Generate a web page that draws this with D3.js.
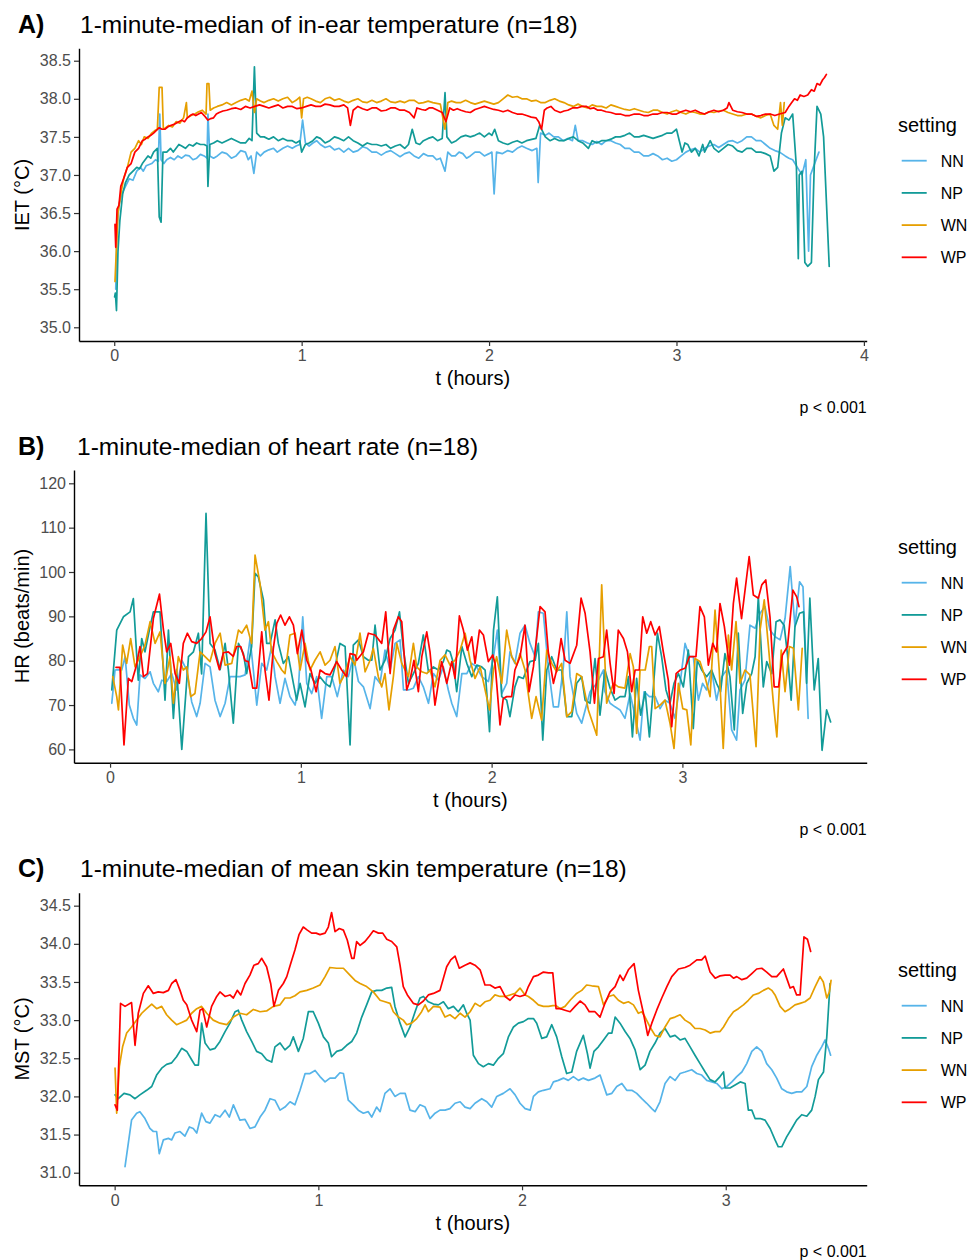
<!DOCTYPE html>
<html>
<head>
<meta charset="utf-8">
<script src="https://cdn.jsdelivr.net/npm/d3@7"></script>
<style>
  html, body { margin: 0; padding: 0; background: #fff; }
  svg { display: block; }
  text { font-family: "Liberation Sans", Arial, Helvetica, sans-serif; }
</style>
</head>
<body>
<svg id="chart" width="979" height="1260"></svg>
<script>
// ---------------- DATA ----------------
const settings = ["NN", "NP", "WN", "WP"];
const settingColors = ["#56B4E9", "#129B98", "#E69F00", "#FF0000"];

const panelLetters = ["A)", "B)", "C)"];
const panelTitles = [
  "1-minute-median of in-ear temperature (n=18)",
  "1-minute-median of heart rate (n=18)",
  "1-minute-median of mean skin temperature (n=18)"
];
const yTitles = ["IET (°C)", "HR (beats/min)", "MST (°C)"];
const xTitle = "t (hours)";
const pLabels = ["p < 0.001", "p < 0.001", "p < 0.001"];
const legendTitle = "setting";

const xTicksA = [0, 1, 2, 3, 4];
const yTicksA = [35.0, 35.5, 36.0, 36.5, 37.0, 37.5, 38.0, 38.5];
const xTicksB = [0, 1, 2, 3];
const yTicksB = [60, 70, 80, 90, 100, 110, 120];
const xTicksC = [0, 1, 2, 3];
const yTicksC = [31.0, 31.5, 32.0, 32.5, 33.0, 33.5, 34.0, 34.5];

// Panel A: in-ear temperature [t (h), °C]
const ietNN = [[0.008,35.5],[0.015,36.3],[0.025,36.6],[0.04,36.75],[0.06,36.85],[0.08,36.95],[0.1,36.93],[0.12,37.05],[0.14,37.1],[0.155,37.05],[0.17,37.12],[0.2,37.15],[0.22,37.2],[0.235,37.18],[0.243,37.8],[0.25,37.2],[0.265,37.15],[0.28,37.2],[0.3,37.23],[0.32,37.2],[0.34,37.25],[0.36,37.22],[0.38,37.26],[0.4,37.25],[0.42,37.2],[0.44,37.22],[0.46,37.27],[0.48,37.25],[0.495,37.22],[0.5,37.8],[0.51,37.25],[0.53,37.22],[0.55,37.25],[0.575,37.3],[0.6,37.28],[0.625,37.22],[0.65,37.25],[0.675,37.32],[0.7,37.3],[0.715,37.2],[0.73,37.25],[0.745,37.02],[0.76,37.3],[0.78,37.25],[0.8,37.3],[0.825,37.33],[0.85,37.35],[0.87,37.3],[0.9,37.35],[0.925,37.38],[0.95,37.35],[0.97,37.38],[0.99,37.4],[1.005,37.72],[1.02,37.42],[1.04,37.38],[1.06,37.42],[1.08,37.45],[1.1,37.4],[1.125,37.36],[1.15,37.38],[1.175,37.33],[1.2,37.35],[1.225,37.3],[1.25,37.35],[1.275,37.3],[1.3,37.32],[1.325,37.37],[1.35,37.35],[1.375,37.3],[1.4,37.3],[1.425,37.26],[1.45,37.3],[1.475,37.32],[1.5,37.28],[1.525,37.24],[1.55,37.28],[1.575,37.3],[1.6,37.25],[1.625,37.22],[1.65,37.28],[1.675,37.25],[1.7,37.25],[1.72,37.2],[1.74,37.22],[1.765,37.05],[1.78,37.3],[1.8,37.25],[1.82,37.25],[1.84,37.3],[1.86,37.28],[1.88,37.22],[1.9,37.25],[1.925,37.3],[1.95,37.3],[1.975,37.25],[2.0,37.28],[2.015,37.3],[2.027,36.75],[2.04,37.3],[2.07,37.28],[2.1,37.32],[2.125,37.3],[2.15,37.35],[2.175,37.38],[2.2,37.35],[2.23,37.32],[2.255,37.35],[2.262,36.9],[2.275,37.55],[2.3,37.52],[2.32,37.55],[2.345,37.5],[2.37,37.5],[2.395,37.45],[2.42,37.48],[2.445,37.45],[2.46,37.65],[2.475,37.45],[2.5,37.45],[2.525,37.42],[2.55,37.4],[2.575,37.44],[2.6,37.4],[2.625,37.45],[2.65,37.45],[2.675,37.42],[2.7,37.4],[2.725,37.35],[2.75,37.35],[2.775,37.3],[2.8,37.3],[2.825,37.25],[2.85,37.25],[2.875,37.28],[2.9,37.25],[2.925,37.2],[2.95,37.22],[2.975,37.18],[3.0,37.2],[3.025,37.25],[3.05,37.3],[3.075,37.33],[3.1,37.35],[3.125,37.3],[3.15,37.35],[3.175,37.38],[3.2,37.4],[3.225,37.36],[3.25,37.4],[3.275,37.44],[3.3,37.45],[3.325,37.42],[3.35,37.45],[3.375,37.5],[3.4,37.5],[3.425,37.45],[3.45,37.45],[3.475,37.4],[3.5,37.35],[3.525,37.32],[3.55,37.3],[3.58,37.25],[3.6,37.22],[3.62,37.2],[3.645,37.1],[3.67,37.0],[3.69,37.2],[3.705,36.0],[3.715,37.0],[3.73,37.1],[3.745,37.2],[3.76,37.3]];
const ietNP = [[0.002,35.4],[0.006,35.45],[0.012,35.22],[0.02,36.0],[0.03,36.4],[0.045,36.75],[0.06,36.9],[0.08,37.0],[0.1,37.05],[0.12,37.1],[0.135,37.08],[0.15,37.15],[0.165,37.2],[0.18,37.25],[0.195,37.22],[0.21,37.3],[0.23,37.35],[0.24,36.45],[0.25,36.38],[0.26,37.3],[0.28,37.3],[0.3,37.35],[0.315,37.3],[0.33,37.35],[0.345,37.4],[0.36,37.38],[0.38,37.35],[0.4,37.4],[0.42,37.38],[0.44,37.42],[0.46,37.4],[0.48,37.4],[0.495,37.38],[0.5,36.85],[0.51,37.4],[0.53,37.42],[0.55,37.45],[0.575,37.42],[0.6,37.45],[0.625,37.48],[0.65,37.45],[0.675,37.42],[0.7,37.42],[0.72,37.48],[0.735,37.45],[0.748,38.42],[0.76,37.55],[0.78,37.5],[0.8,37.5],[0.825,37.47],[0.85,37.5],[0.875,37.45],[0.9,37.48],[0.925,37.45],[0.95,37.45],[0.97,37.42],[0.99,37.45],[1.0,37.3],[1.02,37.4],[1.04,37.42],[1.06,37.45],[1.08,37.5],[1.1,37.48],[1.125,37.42],[1.15,37.45],[1.175,37.5],[1.2,37.48],[1.225,37.45],[1.25,37.5],[1.275,37.45],[1.3,37.42],[1.325,37.38],[1.35,37.42],[1.375,37.4],[1.4,37.4],[1.425,37.38],[1.45,37.4],[1.475,37.35],[1.5,37.38],[1.525,37.4],[1.55,37.35],[1.57,37.4],[1.59,37.6],[1.61,37.42],[1.63,37.4],[1.65,37.45],[1.675,37.48],[1.7,37.5],[1.725,37.45],[1.75,37.48],[1.765,38.08],[1.775,37.5],[1.8,37.42],[1.825,37.45],[1.85,37.5],[1.875,37.52],[1.9,37.5],[1.925,37.52],[1.95,37.55],[1.975,37.5],[2.0,37.55],[2.015,37.52],[2.03,37.6],[2.05,37.45],[2.075,37.42],[2.1,37.4],[2.125,37.43],[2.15,37.45],[2.175,37.42],[2.2,37.45],[2.25,37.48],[2.27,37.65],[2.3,37.5],[2.325,37.45],[2.35,37.48],[2.375,37.45],[2.4,37.45],[2.425,37.48],[2.45,37.5],[2.475,37.45],[2.5,37.42],[2.53,37.35],[2.55,37.45],[2.575,37.42],[2.6,37.45],[2.625,37.45],[2.65,37.47],[2.675,37.5],[2.7,37.5],[2.725,37.52],[2.75,37.55],[2.775,37.5],[2.8,37.5],[2.825,37.52],[2.85,37.5],[2.875,37.48],[2.9,37.5],[2.925,37.52],[2.95,37.55],[2.975,37.55],[3.0,37.6],[3.015,37.45],[3.03,37.3],[3.045,37.42],[3.06,37.4],[3.08,37.3],[3.1,37.35],[3.12,37.25],[3.14,37.4],[3.15,37.3],[3.18,37.45],[3.2,37.35],[3.225,37.3],[3.25,37.35],[3.275,37.4],[3.3,37.38],[3.325,37.32],[3.35,37.3],[3.375,37.35],[3.4,37.35],[3.425,37.3],[3.45,37.3],[3.475,37.28],[3.5,37.25],[3.52,37.05],[3.54,37.1],[3.56,37.55],[3.58,37.75],[3.6,37.72],[3.62,37.8],[3.64,37.1],[3.65,35.9],[3.655,37.0],[3.67,37.05],[3.685,35.85],[3.7,35.8],[3.72,35.85],[3.735,37.1],[3.75,37.9],[3.77,37.8],[3.785,37.5],[3.815,35.8]];
const ietWN = [[0.004,35.6],[0.01,35.95],[0.02,36.5],[0.035,36.75],[0.05,36.95],[0.07,37.1],[0.09,37.3],[0.11,37.35],[0.13,37.45],[0.145,37.4],[0.16,37.5],[0.18,37.48],[0.2,37.55],[0.215,37.58],[0.23,37.6],[0.24,38.15],[0.255,38.15],[0.262,37.6],[0.275,37.62],[0.29,37.65],[0.31,37.63],[0.33,37.7],[0.35,37.68],[0.37,37.75],[0.385,37.95],[0.39,37.75],[0.41,37.78],[0.43,37.8],[0.45,37.83],[0.47,37.85],[0.49,37.8],[0.495,38.2],[0.505,38.2],[0.512,37.85],[0.53,37.88],[0.55,37.9],[0.575,37.92],[0.6,37.95],[0.625,37.92],[0.65,37.95],[0.675,37.98],[0.7,38.0],[0.72,37.97],[0.735,38.1],[0.748,37.82],[0.76,38.0],[0.78,37.97],[0.8,37.95],[0.825,37.98],[0.85,38.0],[0.875,37.97],[0.9,38.0],[0.925,38.02],[0.95,37.95],[0.97,37.98],[0.99,38.02],[1.0,37.75],[1.01,38.0],[1.03,38.02],[1.05,38.0],[1.075,37.97],[1.1,37.95],[1.125,38.0],[1.15,38.02],[1.175,37.98],[1.2,38.0],[1.225,37.97],[1.25,37.95],[1.275,37.98],[1.3,38.0],[1.325,37.96],[1.35,37.95],[1.375,37.98],[1.4,37.95],[1.425,37.97],[1.45,38.0],[1.475,37.96],[1.5,37.95],[1.525,37.97],[1.55,37.95],[1.575,37.98],[1.6,37.98],[1.625,37.94],[1.65,37.95],[1.675,37.97],[1.7,37.95],[1.74,37.93],[1.765,37.6],[1.78,37.95],[1.8,37.97],[1.825,37.95],[1.85,37.95],[1.875,37.98],[1.9,37.95],[1.925,37.93],[1.95,37.95],[1.975,37.97],[2.0,37.95],[2.025,37.93],[2.05,37.95],[2.075,38.0],[2.1,38.05],[2.125,38.02],[2.15,38.03],[2.175,38.0],[2.2,38.0],[2.225,37.97],[2.25,37.98],[2.275,37.95],[2.3,37.95],[2.325,37.98],[2.35,38.0],[2.375,37.97],[2.4,37.95],[2.425,37.92],[2.45,37.9],[2.475,37.93],[2.5,37.9],[2.525,37.88],[2.55,37.92],[2.575,37.9],[2.6,37.9],[2.625,37.88],[2.65,37.92],[2.675,37.9],[2.7,37.88],[2.725,37.86],[2.75,37.85],[2.775,37.87],[2.8,37.85],[2.825,37.83],[2.85,37.82],[2.875,37.85],[2.9,37.85],[2.925,37.82],[2.95,37.8],[2.975,37.83],[3.0,37.85],[3.025,37.82],[3.05,37.8],[3.075,37.83],[3.1,37.82],[3.125,37.8],[3.15,37.8],[3.175,37.83],[3.2,37.82],[3.225,37.84],[3.25,37.85],[3.275,37.82],[3.3,37.8],[3.325,37.78],[3.35,37.78],[3.375,37.8],[3.4,37.8],[3.425,37.77],[3.45,37.75],[3.475,37.78],[3.5,37.8],[3.52,37.65],[3.54,37.6],[3.555,37.95],[3.565,37.65],[3.575,37.95]];
const ietWP = [[0.004,36.35],[0.008,36.05],[0.015,36.55],[0.025,36.6],[0.035,36.85],[0.05,36.95],[0.07,37.1],[0.09,37.15],[0.11,37.3],[0.13,37.35],[0.15,37.45],[0.165,37.47],[0.18,37.5],[0.195,37.52],[0.21,37.55],[0.24,37.62],[0.255,37.6],[0.27,37.6],[0.285,37.63],[0.3,37.65],[0.315,37.66],[0.33,37.68],[0.345,37.7],[0.36,37.72],[0.375,37.7],[0.39,37.75],[0.405,37.78],[0.42,37.8],[0.435,37.78],[0.45,37.8],[0.465,37.82],[0.48,37.78],[0.5,37.72],[0.515,37.74],[0.53,37.75],[0.545,37.8],[0.56,37.82],[0.58,37.84],[0.6,37.85],[0.625,37.87],[0.65,37.88],[0.675,37.86],[0.7,37.9],[0.725,37.88],[0.75,37.9],[0.775,37.92],[0.8,37.9],[0.825,37.88],[0.85,37.9],[0.875,37.92],[0.9,37.88],[0.925,37.9],[0.95,37.9],[0.975,37.87],[1.0,37.88],[1.025,37.9],[1.05,37.92],[1.075,37.9],[1.1,37.9],[1.125,37.93],[1.15,37.92],[1.175,37.9],[1.2,37.9],[1.225,37.92],[1.245,37.88],[1.26,37.65],[1.275,37.85],[1.3,37.9],[1.325,37.87],[1.35,37.85],[1.375,37.88],[1.4,37.88],[1.425,37.84],[1.45,37.85],[1.475,37.88],[1.5,37.88],[1.525,37.85],[1.55,37.85],[1.575,37.82],[1.6,37.75],[1.615,37.88],[1.64,37.86],[1.66,37.85],[1.68,37.88],[1.7,37.88],[1.725,37.85],[1.75,37.82],[1.77,37.7],[1.79,37.88],[1.81,37.85],[1.83,37.87],[1.85,37.85],[1.875,37.83],[1.9,37.82],[1.925,37.86],[1.95,37.88],[1.975,37.9],[2.0,37.88],[2.025,37.86],[2.05,37.85],[2.075,37.83],[2.1,37.85],[2.125,37.82],[2.15,37.8],[2.175,37.8],[2.2,37.78],[2.225,37.76],[2.25,37.75],[2.265,37.7],[2.28,37.6],[2.295,37.85],[2.31,37.88],[2.33,37.9],[2.35,37.85],[2.38,37.82],[2.4,37.84],[2.42,37.85],[2.445,37.88],[2.47,37.88],[2.495,37.9],[2.52,37.9],[2.54,37.87],[2.56,37.88],[2.58,37.85],[2.6,37.85],[2.625,37.83],[2.65,37.82],[2.675,37.8],[2.7,37.8],[2.725,37.78],[2.75,37.78],[2.775,37.8],[2.8,37.8],[2.825,37.78],[2.85,37.78],[2.875,37.8],[2.9,37.8],[2.925,37.82],[2.95,37.82],[2.975,37.8],[3.0,37.8],[3.025,37.83],[3.05,37.85],[3.075,37.83],[3.1,37.85],[3.125,37.82],[3.15,37.8],[3.175,37.83],[3.2,37.85],[3.225,37.83],[3.25,37.85],[3.27,37.88],[3.28,37.95],[3.3,37.85],[3.325,37.83],[3.35,37.82],[3.375,37.8],[3.4,37.8],[3.425,37.77],[3.45,37.78],[3.475,37.8],[3.5,37.8],[3.525,37.78],[3.55,37.8],[3.58,37.82],[3.6,37.9],[3.615,37.95],[3.63,38.0],[3.645,37.98],[3.66,38.05],[3.68,38.03],[3.7,38.05],[3.72,38.12],[3.735,38.1],[3.75,38.2],[3.765,38.18],[3.78,38.25],[3.79,38.28],[3.8,38.32]];

// Panel B: heart rate [t (h), beats/min]
const hrNN = [[0.009,70.4],[0.026,77.9],[0.044,78],[0.061,77.9],[0.079,80.9],[0.101,70],[0.122,67],[0.14,65.5],[0.157,76.8],[0.183,76],[0.21,77.5],[0.227,74.9],[0.253,73],[0.271,75.6],[0.297,75.3],[0.323,77.1],[0.349,73.4],[0.376,80.1],[0.402,77.9],[0.428,70.7],[0.454,67.4],[0.472,70.4],[0.498,79.4],[0.524,78.6],[0.55,71.1],[0.577,67.4],[0.603,70.4],[0.629,76.4],[0.655,76.4],[0.681,76.4],[0.708,76.8],[0.734,85],[0.751,77.9],[0.769,70],[0.795,79.4],[0.821,77.9],[0.847,83.2],[0.865,76.4],[0.891,70.4],[0.917,76],[0.943,71.9],[0.97,70],[0.987,73.8],[1.01,89.9],[1.031,74.9],[1.057,72.6],[1.083,76.4],[1.109,67],[1.136,76.4],[1.162,76.4],[1.191,71.9],[1.223,77.9],[1.249,76.4],[1.275,80.9],[1.302,75.3],[1.328,74.1],[1.363,69.2],[1.389,76.4],[1.415,74.9],[1.441,82.4],[1.468,77.9],[1.494,83.9],[1.52,84.7],[1.538,73.4],[1.564,73.4],[1.59,73.8],[1.616,76.4],[1.642,74.1],[1.669,70.4],[1.695,77.1],[1.721,75.6],[1.747,78.6],[1.773,73.4],[1.791,70.4],[1.817,67.4],[1.844,77.1],[1.87,77.1],[1.896,79.4],[1.922,78.6],[1.948,76.4],[1.983,75.3],[2.01,80.9],[2.03,86.9],[2.053,72.6],[2.079,74.9],[2.096,82],[2.122,79.4],[2.149,86.2],[2.175,88],[2.201,83.9],[2.228,80.9],[2.245,91],[2.271,90.7],[2.297,78.6],[2.324,69.6],[2.35,69.6],[2.376,78.6],[2.394,91],[2.411,76.4],[2.446,68.1],[2.472,65.9],[2.516,73],[2.551,74.9],[2.586,77.9],[2.594,73],[2.621,70.4],[2.647,69.6],[2.673,68.9],[2.699,67],[2.726,72.6],[2.752,67.4],[2.778,62.1],[2.799,73],[2.827,71.9],[2.857,71.9],[2.883,69.2],[2.909,71.1],[2.935,70.4],[2.961,67],[2.988,74.9],[3.014,83.9],[3.037,80.9],[3.057,80.9],[3.084,71.1],[3.106,74.9],[3.127,73.4],[3.153,77.9],[3.179,71.1],[3.206,76.4],[3.232,77.9],[3.258,64.4],[3.284,62.1],[3.302,73.4],[3.328,75.6],[3.354,88],[3.381,87.3],[3.407,90.7],[3.433,92.2],[3.459,86.9],[3.486,85.4],[3.512,84.7],[3.538,89.5],[3.565,101.2],[3.59,87.7],[3.614,97.8],[3.632,96.7],[3.659,67]];
const hrNP = [[0.009,73.4],[0.035,86.9],[0.07,89.9],[0.105,91],[0.122,94],[0.14,80.9],[0.148,75.6],[0.166,85],[0.183,82],[0.21,87.7],[0.227,91],[0.262,91],[0.288,71.1],[0.306,86.9],[0.332,67],[0.349,78],[0.376,60],[0.411,80.9],[0.437,82],[0.463,86.2],[0.48,77],[0.503,113.2],[0.524,83.9],[0.55,82.4],[0.577,78],[0.603,83.9],[0.62,78],[0.646,65.9],[0.673,83.9],[0.699,81.6],[0.716,77.1],[0.742,83.2],[0.76,99.7],[0.777,98.9],[0.804,93.7],[0.821,83.9],[0.839,83.9],[0.865,89.2],[0.882,83.9],[0.908,79.4],[0.935,80.9],[0.961,74.9],[0.978,71.1],[0.996,74.9],[1.022,69.6],[1.048,77.1],[1.074,74.9],[1.1,76.4],[1.127,74.9],[1.153,74.1],[1.179,78.6],[1.205,83.9],[1.232,83.2],[1.258,61],[1.275,83.5],[1.302,84.7],[1.328,80.9],[1.354,80.1],[1.372,80.1],[1.389,88],[1.415,77.9],[1.441,80.1],[1.468,85],[1.494,86.9],[1.517,91],[1.538,82.4],[1.564,74.9],[1.59,77.1],[1.616,79.4],[1.642,85.8],[1.669,77.5],[1.695,78.6],[1.721,77.9],[1.747,79.8],[1.765,82.4],[1.782,82],[1.8,79.4],[1.817,73],[1.844,83.2],[1.87,79.4],[1.896,76.4],[1.922,79],[1.948,78.6],[1.966,77.9],[1.989,64],[2.01,86.9],[2.03,94.4],[2.053,71.9],[2.079,71.1],[2.096,67.4],[2.122,74.1],[2.14,76.4],[2.166,76],[2.201,79.8],[2.228,80.1],[2.245,83.9],[2.268,62.1],[2.289,77.9],[2.315,80.9],[2.341,77.9],[2.367,77.9],[2.394,67.4],[2.42,67.4],[2.446,74.9],[2.472,76.4],[2.49,71.1],[2.516,70.4],[2.542,80.5],[2.568,67.7],[2.594,77.9],[2.621,73.8],[2.647,71.1],[2.673,71.9],[2.699,71.9],[2.717,76.4],[2.738,62.8],[2.76,76],[2.781,67.7],[2.805,73],[2.827,62.8],[2.848,74.1],[2.869,86.2],[2.891,80.9],[2.914,73.4],[2.935,70.4],[2.956,74.9],[2.979,77.1],[3.005,74.1],[3.031,82.4],[3.057,64.7],[3.078,80.1],[3.101,77.9],[3.127,76.4],[3.153,77.9],[3.179,74.9],[3.2,73],[3.223,81.6],[3.249,76.4],[3.272,64.4],[3.293,86.2],[3.316,68.1],[3.337,74.9],[3.363,77.1],[3.381,80.9],[3.398,94.4],[3.424,74.1],[3.442,79.8],[3.468,77.1],[3.491,88.8],[3.512,89.2],[3.533,88],[3.551,81.3],[3.57,71.1],[3.59,87.7],[3.614,90.7],[3.635,91],[3.651,74.9],[3.668,94.1],[3.691,73.4],[3.712,80.5],[3.732,59.8],[3.756,68.9],[3.777,66.2]];
const hrWN = [[0.014,76.4],[0.035,71.9],[0.044,68.9],[0.066,83.5],[0.087,79.4],[0.108,85],[0.131,78.6],[0.157,80.9],[0.183,83.5],[0.21,88.8],[0.236,83.9],[0.262,86.5],[0.288,74.9],[0.314,80.9],[0.332,70.4],[0.358,80.9],[0.384,77.9],[0.402,78.6],[0.423,71.9],[0.445,72.6],[0.472,82],[0.498,80.9],[0.524,79.8],[0.55,83.9],[0.577,86.2],[0.603,79],[0.638,79.4],[0.673,86.9],[0.69,86.2],[0.716,88],[0.742,83.9],[0.76,103.8],[0.786,97.4],[0.812,86.9],[0.83,88.8],[0.847,82],[0.874,79.8],[0.9,77.9],[0.917,77.1],[0.943,85.8],[0.97,86.2],[0.996,77.9],[1.022,83.9],[1.048,77.9],[1.074,80.1],[1.101,82],[1.127,79],[1.153,80.1],[1.179,83.2],[1.205,74.9],[1.232,77.1],[1.258,80.9],[1.284,79],[1.31,86.2],[1.337,77.5],[1.363,80.1],[1.38,82.8],[1.406,76.4],[1.424,74.1],[1.441,77.1],[1.462,68.9],[1.485,76.4],[1.503,83.9],[1.529,79.4],[1.564,76.4],[1.59,83.9],[1.607,78.6],[1.634,77.5],[1.66,77.1],[1.677,77.9],[1.703,74.1],[1.73,80.1],[1.756,81.3],[1.782,79],[1.808,80.1],[1.835,82.4],[1.861,86.2],[1.887,80.1],[1.913,76],[1.94,78.6],[1.966,73.4],[1.989,68.9],[2.01,77.9],[2.026,80.9],[2.053,74.9],[2.079,86.9],[2.105,80.9],[2.131,79],[2.149,81.6],[2.175,77.9],[2.21,67],[2.233,71.9],[2.262,66.6],[2.289,82.4],[2.315,79.4],[2.341,77.5],[2.367,79.4],[2.394,67.4],[2.42,68.5],[2.446,77.1],[2.472,76.4],[2.507,68.9],[2.551,63.2],[2.577,97.1],[2.603,70.4],[2.638,74.9],[2.664,74.1],[2.699,73.8],[2.726,81.6],[2.743,78.6],[2.76,63.6],[2.778,77.9],[2.805,77.9],[2.827,83.2],[2.839,83.2],[2.857,69.2],[2.883,70],[2.909,71.1],[2.935,65.9],[2.956,60.2],[2.979,74.9],[3.002,69.2],[3.023,68.9],[3.044,61],[3.066,80.5],[3.092,79.8],[3.118,76.4],[3.145,71.9],[3.171,91.4],[3.193,77.9],[3.214,60.2],[3.241,85.8],[3.258,77.9],[3.281,88.8],[3.302,74.9],[3.328,77.9],[3.354,76.8],[3.386,60.6],[3.407,86.9],[3.429,93.7],[3.451,83.2],[3.477,70.4],[3.495,62.8],[3.518,82.4],[3.538,73],[3.561,83.2],[3.582,82.8],[3.608,68.9],[3.628,82.8]];
const hrWP = [[0.031,78.5],[0.052,78.5],[0.073,61],[0.096,76],[0.114,75.3],[0.136,78.6],[0.157,83.2],[0.175,76.4],[0.196,77.1],[0.227,89.5],[0.259,95],[0.28,86.9],[0.297,82],[0.318,83.9],[0.341,77.1],[0.363,74.9],[0.384,83.9],[0.405,86.2],[0.428,84.3],[0.454,83.9],[0.48,85],[0.503,86.5],[0.524,89.9],[0.55,81.6],[0.573,78],[0.594,81.8],[0.62,82],[0.646,81],[0.664,83.2],[0.685,83.2],[0.708,80],[0.725,79.8],[0.748,73.8],[0.769,73.8],[0.795,86.5],[0.812,77.9],[0.833,71.1],[0.856,82.8],[0.874,88.4],[0.894,90.3],[0.917,88],[0.94,89.9],[0.961,88],[0.982,81.6],[1.005,86.9],[1.031,80.1],[1.053,77.9],[1.08,73],[1.101,77.9],[1.127,77.1],[1.153,76.8],[1.188,79.8],[1.214,77.9],[1.24,76.4],[1.258,81.6],[1.284,81.3],[1.293,80.1],[1.328,82],[1.354,86.2],[1.389,85.8],[1.424,83.9],[1.445,91],[1.468,77.1],[1.485,86.9],[1.511,89.9],[1.529,88.8],[1.555,73.4],[1.572,75.6],[1.593,80.1],[1.616,73],[1.634,80.9],[1.66,86.5],[1.677,82],[1.703,70],[1.721,74.9],[1.738,79.8],[1.765,74.9],[1.791,79.8],[1.808,76],[1.831,90.1],[1.852,86.9],[1.873,82.4],[1.896,85.4],[1.913,79.4],[1.936,86.9],[1.957,85.8],[1.983,79.8],[2.006,81.3],[2.018,79.4],[2.044,65.5],[2.061,71.5],[2.079,71.9],[2.105,71.9],[2.122,77.9],[2.149,80.9],[2.175,88],[2.196,73],[2.219,78.6],[2.254,92.2],[2.28,91],[2.297,82],[2.324,74.9],[2.341,77.9],[2.364,85],[2.385,80.1],[2.411,79.4],[2.446,83.5],[2.469,94.1],[2.49,90.7],[2.516,82],[2.539,70.4],[2.56,80.5],[2.586,80.9],[2.603,86.9],[2.621,79.4],[2.642,72.6],[2.664,86.9],[2.691,85],[2.712,82],[2.734,73],[2.752,77.9],[2.774,77.9],[2.792,89.9],[2.813,86.2],[2.834,88.8],[2.857,85.8],[2.879,87.7],[2.9,82],[2.926,75.6],[2.944,65.1],[2.967,77.1],[2.988,77.9],[3.014,78.3],[3.037,80.9],[3.071,80.9],[3.092,92.2],[3.115,89.9],[3.136,79],[3.159,83.9],[3.179,82],[3.197,92.9],[3.22,87.7],[3.246,79],[3.267,92.9],[3.284,98.6],[3.31,89.5],[3.35,103.5],[3.372,94.8],[3.398,94.1],[3.416,97.1],[3.437,98.2],[3.459,89.9],[3.481,74.1],[3.504,74.1],[3.524,81.3],[3.551,83.2],[3.579,95.9],[3.599,94.4],[3.611,92.2]];

// Panel C: mean skin temperature [t (h), °C]
const mstNN = [[0.051,31.08],[0.083,31.69],[0.108,31.78],[0.124,31.8],[0.149,31.71],[0.173,31.58],[0.19,31.54],[0.206,31.54],[0.219,31.25],[0.239,31.43],[0.264,31.45],[0.28,31.43],[0.296,31.52],[0.321,31.54],[0.345,31.48],[0.367,31.6],[0.386,31.58],[0.403,31.52],[0.427,31.78],[0.448,31.67],[0.468,31.65],[0.493,31.76],[0.517,31.73],[0.542,31.82],[0.563,31.73],[0.583,31.89],[0.615,31.69],[0.64,31.7],[0.664,31.58],[0.689,31.6],[0.714,31.73],[0.738,31.82],[0.763,31.97],[0.787,31.95],[0.812,31.82],[0.836,31.86],[0.861,31.93],[0.885,31.89],[0.91,32.08],[0.935,32.3],[0.959,32.3],[0.984,32.34],[1.008,32.26],[1.033,32.19],[1.057,32.24],[1.082,32.24],[1.106,32.31],[1.123,32.3],[1.147,31.95],[1.172,31.89],[1.196,31.82],[1.221,31.78],[1.245,31.8],[1.262,31.73],[1.286,31.86],[1.303,31.8],[1.327,32.04],[1.352,32.1],[1.376,32.0],[1.401,32.04],[1.426,32.04],[1.45,31.82],[1.475,31.8],[1.499,31.89],[1.524,31.86],[1.548,31.71],[1.573,31.78],[1.597,31.82],[1.622,31.82],[1.646,31.84],[1.671,31.91],[1.696,31.93],[1.72,31.86],[1.745,31.84],[1.769,31.91],[1.802,31.97],[1.827,31.93],[1.851,31.86],[1.876,32.0],[1.908,32.04],[1.941,32.1],[1.966,32.02],[1.99,31.91],[2.015,31.84],[2.04,31.82],[2.056,32.0],[2.08,32.06],[2.105,32.08],[2.137,32.1],[2.154,32.19],[2.178,32.21],[2.203,32.24],[2.227,32.21],[2.252,32.26],[2.277,32.21],[2.301,32.24],[2.326,32.21],[2.358,32.24],[2.383,32.28],[2.416,32.02],[2.441,32.04],[2.465,32.13],[2.49,32.17],[2.514,32.08],[2.539,32.08],[2.563,32.04],[2.588,31.97],[2.612,31.91],[2.637,31.84],[2.653,31.8],[2.677,31.93],[2.702,32.17],[2.727,32.26],[2.751,32.21],[2.776,32.3],[2.8,32.32],[2.833,32.35],[2.858,32.3],[2.882,32.28],[2.907,32.21],[2.932,32.19],[2.956,32.17],[2.981,32.1],[3.005,32.13],[3.03,32.19],[3.054,32.26],[3.079,32.32],[3.103,32.43],[3.128,32.59],[3.152,32.65],[3.177,32.59],[3.201,32.43],[3.226,32.35],[3.25,32.24],[3.275,32.1],[3.299,32.06],[3.324,32.04],[3.348,32.06],[3.373,32.06],[3.398,32.13],[3.422,32.39],[3.447,32.54],[3.471,32.65],[3.488,32.74],[3.504,32.63],[3.515,32.54]];
const mstNP = [[0.002,32.02],[0.018,31.97],[0.046,32.04],[0.075,32.02],[0.1,31.97],[0.124,32.02],[0.157,32.08],[0.182,32.13],[0.206,32.28],[0.231,32.37],[0.255,32.42],[0.28,32.44],[0.304,32.52],[0.329,32.63],[0.354,32.59],[0.378,32.48],[0.394,32.41],[0.411,32.41],[0.427,32.96],[0.444,32.7],[0.468,32.61],[0.493,32.63],[0.517,32.72],[0.542,32.85],[0.566,32.96],[0.591,33.11],[0.607,33.13],[0.624,33.0],[0.648,32.85],[0.673,32.72],[0.697,32.59],[0.722,32.56],[0.746,32.48],[0.771,32.45],[0.787,32.65],[0.812,32.7],[0.836,32.61],[0.861,32.67],[0.877,32.78],[0.902,32.59],[0.926,32.76],[0.951,33.11],[0.975,33.11],[1.0,32.96],[1.025,32.78],[1.049,32.7],[1.065,32.52],[1.09,32.59],[1.115,32.61],[1.139,32.67],[1.164,32.72],[1.188,32.83],[1.213,33.04],[1.237,33.2],[1.262,33.37],[1.286,33.39],[1.311,33.39],[1.336,33.42],[1.36,33.43],[1.376,33.18],[1.401,32.96],[1.426,32.78],[1.45,32.91],[1.475,33.11],[1.499,33.29],[1.516,33.31],[1.54,33.24],[1.565,33.21],[1.589,33.2],[1.614,33.24],[1.638,33.15],[1.663,33.18],[1.687,33.11],[1.712,33.2],[1.728,33.09],[1.745,33.0],[1.761,32.54],[1.786,32.43],[1.81,32.39],[1.835,32.43],[1.859,32.41],[1.884,32.5],[1.908,32.56],[1.933,32.78],[1.958,32.91],[1.982,32.96],[2.007,32.98],[2.031,33.02],[2.056,33.02],[2.072,32.96],[2.097,32.76],[2.121,32.78],[2.146,32.94],[2.17,32.78],[2.195,32.52],[2.219,32.3],[2.244,32.32],[2.268,32.59],[2.301,32.8],[2.321,32.56],[2.334,32.37],[2.353,32.59],[2.375,32.65],[2.4,32.74],[2.425,32.83],[2.441,32.83],[2.457,33.04],[2.481,32.96],[2.506,32.85],[2.53,32.76],[2.555,32.61],[2.58,32.35],[2.604,32.41],[2.628,32.59],[2.653,32.7],[2.677,32.83],[2.702,32.89],[2.727,32.78],[2.751,32.8],[2.776,32.74],[2.8,32.76],[2.825,32.65],[2.849,32.54],[2.874,32.43],[2.899,32.32],[2.923,32.22],[2.948,32.19],[2.972,32.26],[2.989,32.32],[2.997,32.11],[3.021,32.11],[3.046,32.15],[3.071,32.19],[3.095,32.17],[3.111,31.82],[3.128,31.82],[3.144,31.71],[3.169,31.71],[3.193,31.69],[3.218,31.58],[3.242,31.43],[3.258,31.34],[3.275,31.34],[3.299,31.47],[3.324,31.58],[3.348,31.69],[3.373,31.76],[3.398,31.74],[3.422,31.82],[3.439,32.0],[3.455,32.22],[3.48,32.32],[3.496,32.78],[3.512,33.48]];
const mstWN = [[0.002,32.37],[0.01,31.78],[0.023,32.39],[0.039,32.65],[0.059,32.83],[0.083,32.91],[0.108,33.0],[0.133,33.09],[0.157,33.15],[0.182,33.21],[0.206,33.15],[0.231,33.18],[0.255,33.07],[0.28,33.0],[0.304,32.94],[0.329,32.97],[0.354,33.0],[0.378,33.09],[0.403,33.15],[0.427,33.18],[0.452,33.09],[0.484,33.0],[0.517,32.96],[0.55,32.94],[0.583,33.04],[0.615,33.09],[0.648,33.07],[0.681,33.14],[0.714,33.11],[0.746,33.12],[0.779,33.18],[0.812,33.2],[0.836,33.29],[0.861,33.29],[0.885,33.32],[0.91,33.37],[0.943,33.39],[0.975,33.42],[1.008,33.46],[1.033,33.57],[1.057,33.69],[1.09,33.68],[1.123,33.68],[1.155,33.59],[1.18,33.52],[1.205,33.48],[1.237,33.44],[1.27,33.37],[1.303,33.26],[1.327,33.24],[1.352,33.22],[1.368,33.11],[1.393,33.04],[1.417,33.0],[1.434,32.94],[1.458,32.96],[1.483,33.02],[1.507,33.11],[1.524,33.2],[1.54,33.11],[1.565,33.18],[1.597,33.17],[1.622,33.04],[1.646,33.07],[1.671,33.02],[1.696,33.09],[1.72,33.04],[1.745,33.11],[1.769,33.22],[1.794,33.18],[1.818,33.24],[1.843,33.26],[1.867,33.33],[1.892,33.31],[1.917,33.31],[1.941,33.33],[1.966,33.35],[1.99,33.42],[2.015,33.33],[2.031,33.31],[2.056,33.26],[2.08,33.2],[2.105,33.18],[2.13,33.18],[2.151,33.19],[2.167,33.19],[2.187,33.15],[2.211,33.18],[2.236,33.26],[2.268,33.35],[2.293,33.39],[2.317,33.46],[2.342,33.45],[2.375,33.44],[2.4,33.2],[2.425,33.31],[2.449,33.33],[2.473,33.26],[2.498,33.22],[2.522,33.24],[2.547,33.2],[2.571,33.09],[2.588,33.11],[2.604,33.04],[2.628,32.91],[2.653,32.8],[2.677,32.78],[2.702,32.91],[2.727,33.02],[2.751,33.04],[2.776,33.07],[2.8,33.0],[2.825,32.96],[2.849,32.89],[2.874,32.89],[2.899,32.87],[2.923,32.83],[2.948,32.85],[2.972,32.85],[2.989,32.91],[3.013,33.02],[3.038,33.11],[3.062,33.15],[3.087,33.2],[3.111,33.26],[3.136,33.33],[3.16,33.35],[3.185,33.39],[3.209,33.42],[3.226,33.39],[3.242,33.33],[3.267,33.18],[3.291,33.11],[3.316,33.15],[3.34,33.2],[3.365,33.22],[3.389,33.24],[3.414,33.29],[3.439,33.44],[3.463,33.57],[3.479,33.5],[3.496,33.29],[3.509,33.37],[3.517,33.52]];
const mstWP = [[0.002,31.89],[0.013,31.82],[0.029,33.22],[0.051,33.18],[0.083,33.23],[0.1,32.67],[0.116,33.09],[0.141,33.35],[0.165,33.45],[0.19,33.35],[0.214,33.37],[0.239,33.36],[0.264,33.39],[0.28,33.48],[0.301,33.53],[0.321,33.39],[0.337,33.26],[0.354,33.2],[0.378,33.0],[0.403,32.85],[0.419,33.13],[0.432,33.15],[0.452,32.91],[0.476,33.18],[0.501,33.31],[0.517,33.37],[0.542,33.31],[0.566,33.33],[0.583,33.29],[0.602,33.39],[0.619,33.33],[0.64,33.48],[0.664,33.59],[0.684,33.72],[0.705,33.74],[0.722,33.81],[0.746,33.7],[0.766,33.48],[0.782,33.18],[0.804,33.39],[0.828,33.48],[0.845,33.57],[0.864,33.74],[0.885,33.92],[0.905,34.12],[0.926,34.22],[0.946,34.18],[0.967,34.14],[0.989,34.14],[1.008,34.12],[1.033,34.14],[1.049,34.22],[1.065,34.41],[1.082,34.16],[1.103,34.2],[1.123,34.18],[1.142,34.05],[1.164,33.81],[1.175,33.81],[1.188,34.03],[1.205,33.98],[1.229,34.03],[1.25,34.1],[1.27,34.17],[1.295,34.14],[1.316,34.14],[1.336,34.06],[1.36,34.03],[1.385,33.96],[1.401,33.72],[1.417,33.44],[1.437,33.33],[1.466,33.22],[1.491,33.2],[1.516,33.25],[1.54,33.33],[1.565,33.35],[1.597,33.39],[1.63,33.7],[1.65,33.79],[1.671,33.84],[1.692,33.68],[1.72,33.72],[1.745,33.75],[1.769,33.72],[1.794,33.66],[1.818,33.46],[1.843,33.46],[1.867,33.42],[1.892,33.44],[1.917,33.31],[1.941,33.26],[1.966,33.33],[1.99,33.31],[2.015,33.33],[2.031,33.44],[2.056,33.57],[2.08,33.59],[2.105,33.63],[2.13,33.62],[2.151,33.62],[2.167,33.15],[2.187,33.15],[2.211,33.13],[2.236,33.11],[2.26,33.18],[2.285,33.25],[2.309,33.2],[2.33,33.11],[2.358,33.11],[2.383,33.04],[2.407,33.22],[2.432,33.37],[2.457,33.44],[2.481,33.59],[2.497,33.52],[2.522,33.66],[2.55,33.74],[2.571,33.39],[2.596,33.09],[2.617,32.8],[2.637,32.96],[2.661,33.13],[2.686,33.29],[2.711,33.44],[2.735,33.57],[2.768,33.67],[2.8,33.69],[2.825,33.72],[2.858,33.79],[2.882,33.79],[2.899,33.84],[2.923,33.63],[2.948,33.55],[2.972,33.58],[2.997,33.59],[3.021,33.59],[3.038,33.55],[3.054,33.57],[3.079,33.53],[3.103,33.55],[3.128,33.61],[3.152,33.67],[3.177,33.68],[3.201,33.63],[3.226,33.57],[3.25,33.57],[3.283,33.67],[3.299,33.55],[3.316,33.42],[3.332,33.44],[3.348,33.33],[3.365,33.33],[3.384,34.09],[3.401,34.06],[3.417,33.9]];

// ---------------- LAYOUT ----------------
const FONT = '"Liberation Sans", Arial, Helvetica, sans-serif';
const panels = [
  { series: [ietNN, ietNP, ietWN, ietWP], xTicks: xTicksA, yTicks: yTicksA, yFmt: d3.format(".1f"),
    left: 79, right: 866.7, top: 48.3, bottom: 341, xDom: [-0.188, 4.015], yDom: [34.82, 38.663],
    titleY: 33, titleX: 80, xTitleY: 385, pY: 413, yTitleY: 195, legendY: 125 },
  { series: [hrNN, hrNP, hrWN, hrWP], xTicks: xTicksB, yTicks: yTicksB, yFmt: d3.format("d"),
    left: 74, right: 866.7, top: 470, bottom: 762.7, xDom: [-0.189, 3.966], yDom: [57, 123],
    titleY: 455, titleX: 77, xTitleY: 807, pY: 835, yTitleY: 616, legendY: 547 },
  { series: [mstNN, mstNP, mstWN, mstWP], xTicks: xTicksC, yTicks: yTicksC, yFmt: d3.format(".1f"),
    left: 79, right: 866.7, top: 892.7, bottom: 1185.3, xDom: [-0.175, 3.692], yDom: [30.835, 34.67],
    titleY: 877, titleX: 80, xTitleY: 1230, pY: 1257, yTitleY: 1039, legendY: 970 }
];

const svg = d3.select("#chart");
svg.append("rect").attr("width", 979).attr("height", 1260).attr("fill", "#fff");

panels.forEach((p, pi) => {
  const x = d3.scaleLinear().domain(p.xDom).range([p.left, p.right]);
  const y = d3.scaleLinear().domain(p.yDom).range([p.bottom, p.top]);
  const g = svg.append("g");

  // series lines
  const line = d3.line().x(d => x(d[0])).y(d => y(d[1]));
  p.series.forEach((s, si) => {
    g.append("path").datum(s)
      .attr("d", line)
      .attr("fill", "none")
      .attr("stroke", settingColors[si])
      .attr("stroke-width", 1.7)
      .attr("stroke-linejoin", "round")
      .attr("stroke-linecap", "round");
  });

  // axes
  const xAxis = d3.axisBottom(x).tickValues(p.xTicks).tickFormat(d3.format("d"))
    .tickSize(5).tickSizeOuter(0).tickPadding(4);
  const yAxis = d3.axisLeft(y).tickValues(p.yTicks).tickFormat(p.yFmt)
    .tickSize(5).tickSizeOuter(0).tickPadding(3);
  const gx = g.append("g").attr("transform", `translate(0,${p.bottom})`).call(xAxis);
  const gy = g.append("g").attr("transform", `translate(${p.left},0)`).call(yAxis);
  [gx, gy].forEach(ax => {
    ax.attr("font-family", FONT).attr("font-size", 16);
    ax.select(".domain").attr("stroke", "#000").attr("stroke-width", 1.4);
    ax.selectAll(".tick line").attr("stroke", "#333").attr("stroke-width", 1.2);
    ax.selectAll(".tick text").attr("fill", "#4D4D4D");
  });

  // titles
  svg.append("text").attr("x", 18).attr("y", p.titleY)
    .attr("font-family", FONT).attr("font-size", 25).attr("font-weight", "bold")
    .attr("fill", "#000").text(panelLetters[pi]);
  svg.append("text").attr("x", p.titleX).attr("y", p.titleY)
    .attr("font-family", FONT).attr("font-size", 24.5)
    .attr("fill", "#000").text(panelTitles[pi]);

  // axis titles
  svg.append("text").attr("x", (p.left + p.right) / 2).attr("y", p.xTitleY)
    .attr("text-anchor", "middle").attr("font-family", FONT).attr("font-size", 20)
    .attr("fill", "#000").text(xTitle);
  svg.append("text")
    .attr("transform", `translate(29,${p.yTitleY}) rotate(-90)`)
    .attr("text-anchor", "middle").attr("font-family", FONT).attr("font-size", 20)
    .attr("fill", "#000").text(yTitles[pi]);

  // p-value caption
  svg.append("text").attr("x", p.right).attr("y", p.pY)
    .attr("text-anchor", "end").attr("font-family", FONT).attr("font-size", 16)
    .attr("fill", "#000").text(pLabels[pi]);

  // legend
  const lg = svg.append("g");
  lg.append("text").attr("x", 898).attr("y", p.legendY + 7)
    .attr("font-family", FONT).attr("font-size", 20).attr("fill", "#000").text(legendTitle);
  settings.forEach((s, si) => {
    const cy = p.legendY + 35.7 + si * 32.2;
    lg.append("line").attr("x1", 901.7).attr("x2", 926.7).attr("y1", cy).attr("y2", cy)
      .attr("stroke", settingColors[si]).attr("stroke-width", 1.8);
    lg.append("text").attr("x", 940.7).attr("y", cy + 5.8)
      .attr("font-family", FONT).attr("font-size", 16).attr("fill", "#000").text(s);
  });
});
</script>
</body>
</html>
